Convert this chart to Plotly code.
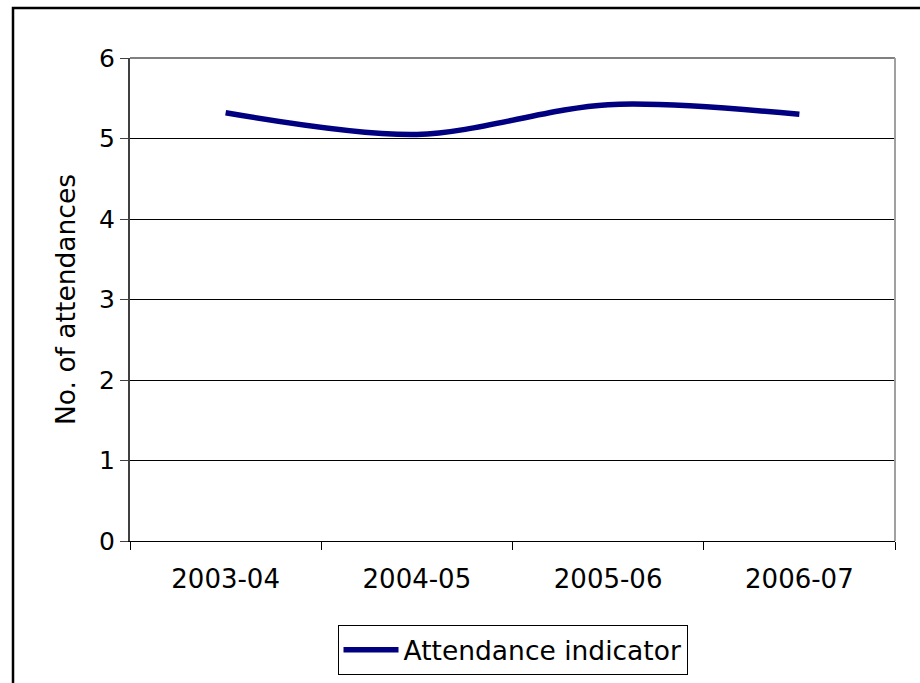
import plotly.graph_objects as go

# Attendance indicator by financial year
years = ["2003-04", "2004-05", "2005-06", "2006-07"]
attendances = [5.32, 5.05, 5.42, 5.30]
y_ticks = [0, 1, 2, 3, 4, 5, 6]

FONT = "Verdana, DejaVu Sans, sans-serif"

fig = go.Figure()
fig.add_trace(go.Scatter(
    x=years,
    y=attendances,
    mode="lines",
    name="Attendance indicator",
    line=dict(color="#000080", width=5.5, shape="spline", smoothing=0.9),
))

L, R, T, B = 130, 25, 58, 142
W, H = 920, 683
pw, ph = W - L - R, H - T - B

def px_x(x):
    return (x - L) / pw

def px_y(y):
    return (H - B - y) / ph

fig.update_layout(
    width=W, height=H,
    margin=dict(l=L, r=R, t=T, b=B, autoexpand=False),
    paper_bgcolor="white",
    plot_bgcolor="white",
    font=dict(family=FONT, size=25, color="black"),
    showlegend=True,
    legend=dict(
        x=0.5, xanchor="center",
        y=px_y(625), yanchor="top",
        bordercolor="black", borderwidth=1,
        font=dict(family=FONT, size=26.5, color="black"),
        itemwidth=55,
        tracegroupgap=0,
    ),
    xaxis=dict(
        type="category",
        range=[-0.5, 3.5],
        tickson="boundaries",
        ticks="outside", ticklen=8, tickcolor="black", tickwidth=1,
        showline=True, linecolor="black", linewidth=1,
        showgrid=False,
        tickfont=dict(family=FONT, size=26),
        ticklabelstandoff=15,
    ),
    yaxis=dict(
        range=[0, 6],
        tickvals=y_ticks,
        ticks="outside", ticklen=8, tickcolor="#404040", tickwidth=1,
        showline=True, linecolor="#404040", linewidth=2,
        showgrid=True, gridcolor="black", gridwidth=1,
        zeroline=False,
        tickfont=dict(family=FONT, size=25),
        title=dict(text="No. of attendances", font=dict(family=FONT, size=26.5), standoff=16),
    ),
    shapes=[
        # plot area border (top and right edges)
        dict(type="line", xref="paper", yref="paper", x0=0, x1=1, y0=1, y1=1,
             line=dict(color="#808080", width=2), layer="above"),
        dict(type="line", xref="paper", yref="paper", x0=1, x1=1, y0=0, y1=1,
             line=dict(color="#a0a0a0", width=2), layer="above"),
        # chart area border
        dict(type="rect", xref="paper", yref="paper",
             x0=px_x(13), x1=px_x(930), y0=px_y(692), y1=px_y(8),
             line=dict(color="black", width=2.5), layer="above"),
    ],
)

fig.write_html("out.html")
